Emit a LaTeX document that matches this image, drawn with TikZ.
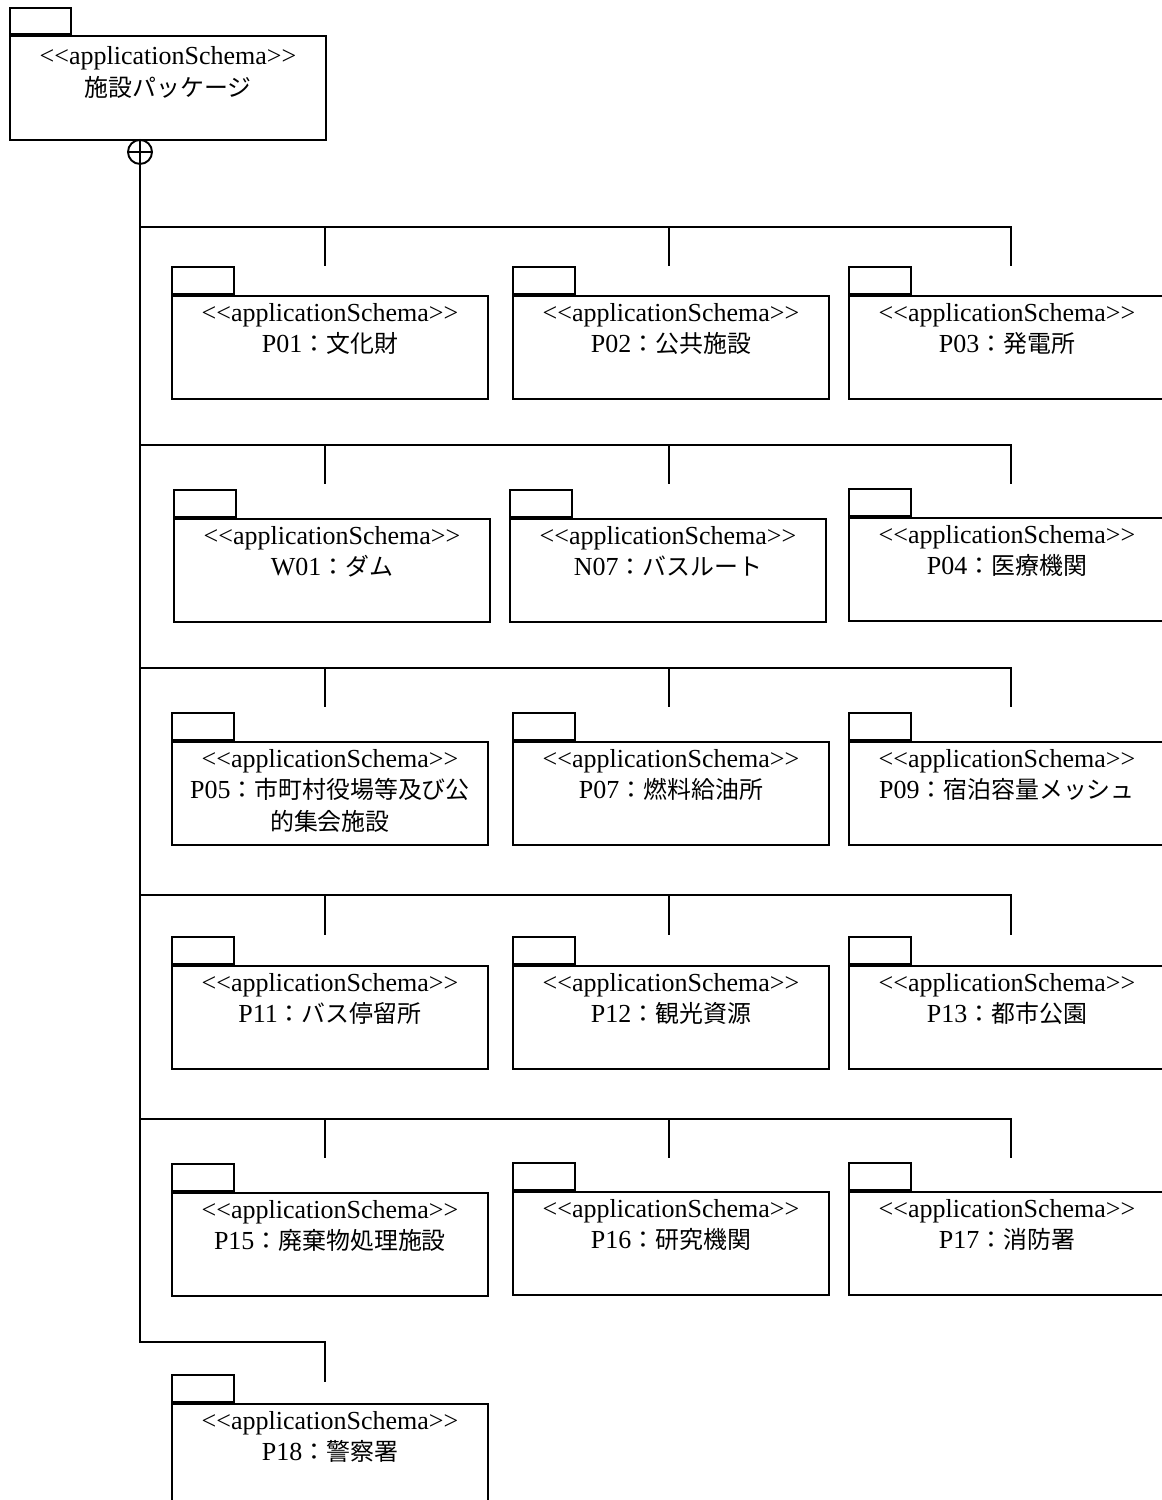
\documentclass[tikz,border=0pt]{standalone}
\usepackage{fontspec}
\setmainfont{Liberation Serif}
\newfontfamily\jp{Noto Sans CJK JP}[Scale=0.92]
\tikzset{
  pkgline/.style={line width=0.95pt},
  pkgbody/.style={draw, pkgline, anchor=north west, inner sep=0pt, minimum width=158pt, minimum height=51.5pt},
  pkgtab/.style={draw, pkgline, anchor=south west, inner sep=0pt, minimum width=31pt, minimum height=13.5pt},
  conn/.style={pkgline},
  ownmark/.style={draw, pkgline, circle, inner sep=0pt, minimum size=12pt, anchor=north}
}
\newcommand\llt{<\kern0pt<}
\newcommand\ggt{>\kern0pt>}
\newcommand\pkgtext[2][1.5pt]{\parbox[t][51.5pt][t]{158pt}{\centering\fontsize{13pt}{15.8pt}\selectfont\vspace*{#1}\strut\llt applicationSchema\ggt\\#2}}
\newcommand\pkg[4]{%
  \node[pkgbody] (#1) at (#2,#3) {\pkgtext{#4}};
  \node[pkgtab] (#1tab) at (#1.north west) {};
}
\begin{document}
\begin{tikzpicture}[x=0.5pt,y=-0.5pt]
\useasboundingbox (0,0) rectangle (1162,1500);
\fill[white] (0,0) rectangle (1162,1500);
\clip (0,0) rectangle (1162,1500);

% top package
\node[pkgbody, minimum height=52pt] (top) at (9,35) {\pkgtext[3pt]{{\jp 施設パッケージ}}};
\node[pkgtab, minimum width=30.5pt, minimum height=13pt] (toptab) at (top.north west) {};
\node[ownmark] (own) at (140,139) {};
\draw[conn] (own.north) -- (own.south) (own.west) -- (own.east);

% packages
\pkg{P01}{171}{295}{P01{\jp ：文化財}}
\pkg{P02}{512}{295}{P02{\jp ：公共施設}}
\pkg{P03}{848}{295}{P03{\jp ：発電所}}
\pkg{W01}{173}{518}{W01{\jp ：ダム}}
\pkg{N07}{509}{518}{N07{\jp ：バスルート}}
\pkg{P04}{848}{517}{P04{\jp ：医療機関}}
\pkg{P05}{171}{741}{P05{\jp ：市町村役場等及び公}\\{\jp 的集会施設}}
\pkg{P07}{512}{741}{P07{\jp ：燃料給油所}}
\pkg{P09}{848}{741}{P09{\jp ：宿泊容量メッシュ}}
\pkg{P11}{171}{965}{P11{\jp ：バス停留所}}
\pkg{P12}{512}{965}{P12{\jp ：観光資源}}
\pkg{P13}{848}{965}{P13{\jp ：都市公園}}
\pkg{P15}{171}{1192}{P15{\jp ：廃棄物処理施設}}
\pkg{P16}{512}{1191}{P16{\jp ：研究機関}}
\pkg{P17}{848}{1191}{P17{\jp ：消防署}}
\pkg{P18}{171}{1403}{P18{\jp ：警察署}}

% connector coordinates
\coordinate (r1) at (140,227);  \coordinate (r2) at (140,445);
\coordinate (r3) at (140,668);  \coordinate (r4) at (140,895);
\coordinate (r5) at (140,1119); \coordinate (r6) at (140,1342);
\foreach \i/\y/\e in {1/227/266, 2/445/484, 3/668/707, 4/895/935, 5/1119/1158}{
  \coordinate (d\i a) at (325,\e);
  \coordinate (d\i b) at (669,\e);
  \coordinate (d\i c) at (1011,\e);
}
\coordinate (d6a) at (325,1382);

% connectors
\draw[conn] (own.south) -- (r6) -| (d6a);
\foreach \i in {1,...,5}{
  \draw[conn] (r\i) -| (d\i c);
  \draw[conn] (r\i -| d\i a) -- (d\i a);
  \draw[conn] (r\i -| d\i b) -- (d\i b);
}
\end{tikzpicture}
\end{document}
